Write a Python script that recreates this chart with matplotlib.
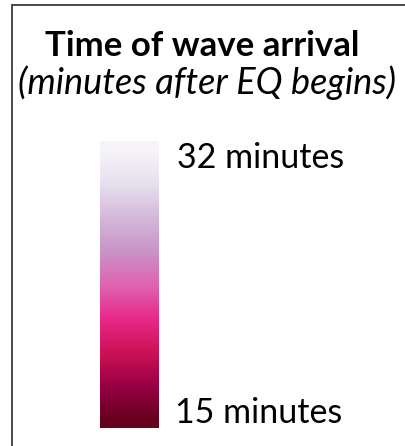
import matplotlib
matplotlib.use("Agg")
import matplotlib.pyplot as plt
import numpy as np
from matplotlib.patches import Rectangle

# legend data
minutes = [15, 16, 17, 18, 19, 20, 21, 22, 23, 24, 25, 26, 27, 28, 29, 30, 31, 32]
title = "Time of wave arrival"
subtitle = "(minutes after EQ begins)"
top_label = "32 minutes"
bottom_label = "15 minutes"

W, H = 405, 446
fig = plt.figure(figsize=(W / 100, H / 100), dpi=100)
plt.rcParams['font.family'] = ['Lato', 'DejaVu Sans']

# frame (runs off the right/bottom edge like the source)
fig.patches.append(Rectangle((11.5 / W, -0.05), 1.1, (H - 4.5) / H + 0.05,
                             transform=fig.transFigure, fill=False,
                             edgecolor='#3a3a3a', linewidth=1.3))

fig.text(202 / W, 1 - 46 / H, title, ha='center', va='center',
         fontsize=25, fontweight='bold')
fig.text(207 / W, 1 - 83 / H, subtitle, ha='center', va='center',
         fontsize=26, fontstyle='italic')

# colour bar
ax = fig.add_axes([100 / W, (H - 428) / H, 59 / W, 287 / H])
vals = np.array(minutes).reshape(-1, 1)
ax.imshow(vals, cmap='PuRd_r', origin='lower', aspect='auto',
          interpolation='bilinear', vmin=min(minutes), vmax=max(minutes))
ax.axis('off')

fig.text(177 / W, 1 - 158 / H, top_label, ha='left', va='center', fontsize=24.5)
fig.text(175 / W, 1 - 413 / H, bottom_label, ha='left', va='center', fontsize=24.5)

fig.savefig("out.png", dpi=100)
